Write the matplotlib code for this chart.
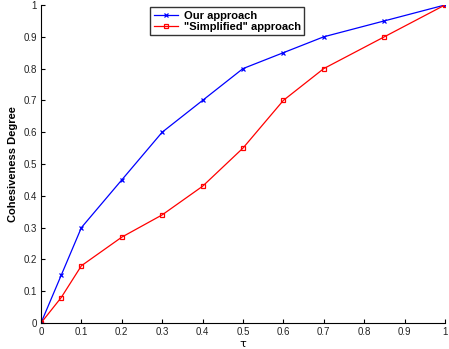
import matplotlib
matplotlib.use('Agg')
import matplotlib.pyplot as plt

# Data
tau = [0, 0.05, 0.1, 0.2, 0.3, 0.4, 0.5, 0.6, 0.7, 0.85, 1.0]
ours = [0, 0.15, 0.30, 0.45, 0.60, 0.70, 0.80, 0.85, 0.90, 0.95, 1.0]
simplified = [0, 0.08, 0.18, 0.27, 0.34, 0.43, 0.55, 0.70, 0.80, 0.90, 1.0]
ticks = [0, 0.1, 0.2, 0.3, 0.4, 0.5, 0.6, 0.7, 0.8, 0.9, 1]
tick_labels = ['0', '0.1', '0.2', '0.3', '0.4', '0.5', '0.6', '0.7', '0.8', '0.9', '1']

plt.rcParams['font.family'] = ['Liberation Sans', 'DejaVu Sans']

fig = plt.figure(figsize=(4.49, 3.49), dpi=100)
ax = fig.add_axes([0.0913, 0.0745, 0.8997, 0.9112])

ax.plot(tau, ours, color='blue', marker='x', markersize=3.5, linewidth=0.9,
        markeredgewidth=0.9, label='Our approach')
ax.plot(tau, simplified, color='red', marker='s', markersize=3.5, linewidth=0.9,
        markerfacecolor='none', markeredgewidth=0.9, label='"Simplified" approach')

ax.set_xlim(0, 1)
ax.set_ylim(0, 1)
ax.set_xticks(ticks)
ax.set_xticklabels(tick_labels)
ax.set_yticks(ticks)
ax.set_yticklabels(tick_labels)
ax.tick_params(direction='in', length=3, width=0.8, labelsize=7, pad=3,
               labelcolor='#222222')

ax.spines['top'].set_visible(False)
ax.spines['right'].set_visible(False)

ax.set_xlabel('τ', fontsize=8, labelpad=1, family=['DejaVu Sans'])
ax.set_ylabel('Cohesiveness Degree', fontsize=8, fontweight='bold', labelpad=4)

leg = ax.legend(loc='upper left', bbox_to_anchor=(0.265, 1.0),
                prop={'weight': 'bold', 'size': 8}, frameon=True, fancybox=False,
                borderpad=0.3, labelspacing=0.1, handlelength=2.2, handletextpad=0.5,
                borderaxespad=0.2)
leg.get_frame().set_edgecolor('black')
leg.get_frame().set_linewidth(1.0)

fig.savefig('out.png', dpi=100)
